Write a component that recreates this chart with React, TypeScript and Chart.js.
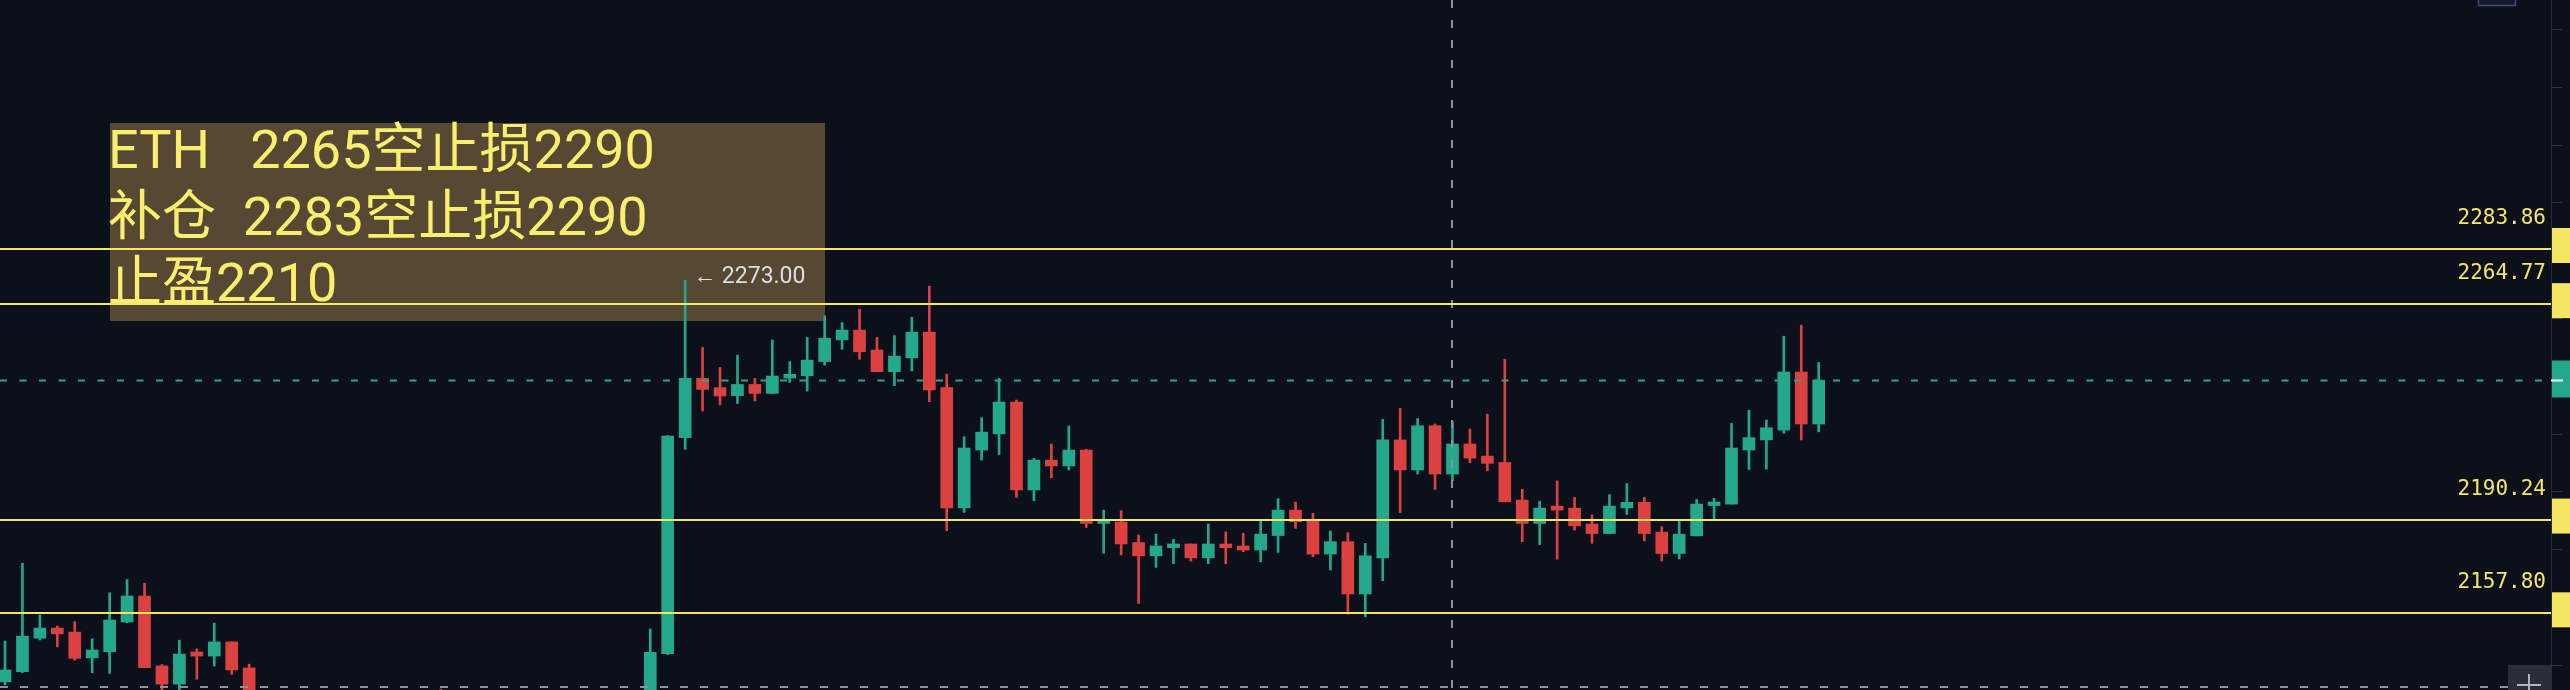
import React, { useEffect, useRef } from "react";
import { Chart, registerables } from "chart.js";

Chart.register(...registerables);

// ---------- data ----------
const OPEN = [
  2134.1, 2137.6, 2149.2, 2152.7, 2151.3, 2142.4, 2144.5, 2154.8, 2163.8, 2139.6,
  2133.3, 2144.4, 2143.0, 2147.9, 2138.9, 2127.0, 2121.0, 2119.0, 2114.5, 2117.5,
  2112.0, 2115.0, 2121.0, 2118.0, 2122.5, 2125.0, 2123.0, 2117.0, 2112.0, 2107.5,
  2110.0, 2114.0, 2110.5, 2116.0, 2113.0, 2118.0, 2115.0, 2117.0, 2143.8, 2218.6,
  2239.1, 2235.9, 2233.1, 2237.0, 2233.9, 2239.2, 2240.0, 2244.9, 2252.4, 2255.8,
  2248.9, 2241.4, 2246.2, 2255.1, 2235.9, 2194.3, 2214.3, 2219.9, 2230.9, 2200.5,
  2210.8, 2208.8, 2214.3, 2188.9, 2189.4, 2182.3, 2177.7, 2180.5, 2181.8, 2177.0,
  2181.8, 2181.1, 2179.7, 2184.7, 2193.5, 2190.3, 2178.3, 2182.6, 2164.5, 2177.0,
  2217.8, 2207.4, 2222.7, 2206.0, 2216.4, 2212.2, 2210.0, 2197.0, 2188.9, 2194.9,
  2194.2, 2188.7, 2185.4, 2194.3, 2196.2, 2185.9, 2178.5, 2184.6, 2195.1, 2195.6,
  2214.3, 2217.8, 2221.2, 2241.3, 2223.3,
];
const HIGH = [
  2148.2, 2175.1, 2157.2, 2153.4, 2154.9, 2149.0, 2164.9, 2169.5, 2168.2, 2140.1,
  2148.5, 2145.5, 2154.4, 2148.0, 2140.2, 2129.5, 2126.0, 2124.0, 2120.0, 2122.5,
  2118.0, 2125.0, 2127.0, 2124.0, 2128.5, 2131.6, 2126.0, 2121.0, 2116.0, 2113.0,
  2117.0, 2119.0, 2118.0, 2122.0, 2120.0, 2124.0, 2121.0, 2152.4, 2219.3, 2273.0,
  2249.8, 2242.9, 2247.1, 2239.1, 2252.4, 2244.9, 2253.3, 2260.7, 2258.4, 2263.0,
  2253.3, 2253.9, 2260.2, 2271.0, 2240.6, 2218.9, 2225.5, 2239.1, 2231.6, 2211.4,
  2216.4, 2222.6, 2214.5, 2193.5, 2193.3, 2184.9, 2185.2, 2183.4, 2181.8, 2188.7,
  2186.0, 2185.5, 2190.0, 2197.5, 2196.3, 2192.4, 2186.3, 2185.7, 2182.0, 2224.9,
  2228.7, 2225.2, 2223.3, 2224.1, 2221.6, 2226.7, 2245.7, 2200.7, 2196.6, 2203.6,
  2197.9, 2191.8, 2198.9, 2202.7, 2197.9, 2187.8, 2190.1, 2197.2, 2197.6, 2223.5,
  2228.1, 2224.7, 2253.7, 2257.5, 2244.6,
];
const LOW = [
  2133.0, 2137.3, 2148.6, 2146.2, 2141.6, 2137.2, 2137.0, 2154.5, 2139.0, 2129.0,
  2129.5, 2135.0, 2139.6, 2136.7, 2124.0, 2118.0, 2115.5, 2112.0, 2108.0, 2110.0,
  2106.0, 2113.0, 2116.0, 2114.0, 2119.0, 2120.0, 2115.0, 2109.0, 2104.0, 2101.0,
  2106.0, 2108.0, 2107.0, 2111.0, 2109.0, 2113.0, 2110.0, 2114.0, 2143.5, 2214.6,
  2227.8, 2229.9, 2230.4, 2231.3, 2233.9, 2237.7, 2234.7, 2243.7, 2249.2, 2245.7,
  2241.4, 2236.6, 2241.7, 2231.0, 2186.4, 2192.7, 2210.8, 2212.7, 2197.9, 2196.8,
  2204.7, 2207.4, 2187.5, 2178.6, 2178.0, 2161.2, 2173.7, 2175.0, 2175.9, 2175.0,
  2175.0, 2179.1, 2175.6, 2178.9, 2187.2, 2177.4, 2172.8, 2157.5, 2156.6, 2169.1,
  2192.6, 2206.0, 2200.7, 2203.7, 2209.9, 2207.1, 2196.4, 2182.6, 2181.6, 2176.5,
  2186.6, 2182.0, 2185.4, 2192.0, 2182.9, 2175.9, 2176.6, 2184.6, 2190.4, 2195.6,
  2207.6, 2207.7, 2220.1, 2217.8, 2220.6,
];
const CLOSE = [
  2138.2, 2149.9, 2152.7, 2150.7, 2142.2, 2145.1, 2155.5, 2163.8, 2139.0, 2133.3,
  2143.7, 2143.0, 2147.9, 2138.2, 2127.0, 2121.0, 2119.0, 2114.5, 2117.5, 2112.0,
  2115.0, 2121.0, 2118.0, 2122.5, 2125.0, 2123.0, 2117.0, 2112.0, 2107.5, 2110.0,
  2114.0, 2110.5, 2116.0, 2113.0, 2118.0, 2115.0, 2117.0, 2144.3, 2219.1, 2239.1,
  2235.3, 2233.0, 2237.0, 2233.9, 2239.9, 2240.5, 2245.4, 2253.0, 2255.8, 2248.3,
  2241.4, 2246.8, 2255.1, 2235.1, 2194.3, 2215.0, 2220.5, 2230.9, 2200.5, 2210.8,
  2208.8, 2214.3, 2188.9, 2190.3, 2181.8, 2177.7, 2181.1, 2181.8, 2177.0, 2181.8,
  2180.5, 2179.7, 2185.2, 2193.5, 2189.5, 2178.3, 2182.6, 2164.5, 2177.7, 2217.8,
  2207.4, 2222.7, 2206.0, 2216.4, 2211.5, 2209.7, 2196.4, 2188.9, 2194.2, 2193.5,
  2188.1, 2185.4, 2194.9, 2196.2, 2185.4, 2178.5, 2185.2, 2195.6, 2196.3, 2215.0,
  2218.6, 2222.0, 2241.3, 2223.3, 2238.5,
];

const LEVELS = [2283.86, 2264.77, 2190.24, 2157.8];
const LEVEL_LABELS = ["2283.86", "2264.77", "2190.24", "2157.80"];
const NOTE_LINES = ["ETH   2265空止损2290", "补仓  2283空止损2290", "止盈2210"];
const Y_TICKS = [2140, 2160, 2180, 2200, 2220, 2240, 2260, 2280, 2300, 2320, 2340, 2360];
const Y_MIN = 2131.27;
const Y_MAX = 2370.02;
const X_MIN = -0.287;
const X_MAX = 145.99;
const CROSSHAIR_INDEX = 83;
const CROSSHAIR_PRICE = 2132.3;

// ---------- styles ----------
const BG = "#0c101a";
const UP = "#24a88b";
const DOWN = "#db4141";
const YELLOW = "#f5e663";
const TEXT_YELLOW = "#f9ee6e";
const W = 2570;
const H = 690;

const overlay = {
  id: "overlay",
  beforeDraw(chart: any) {
    const ctx = chart.ctx;
    ctx.save();
    ctx.fillStyle = BG;
    ctx.fillRect(0, 0, chart.width, chart.height);
    ctx.restore();
  },
  beforeDatasetsDraw(chart: any) {
    const ctx = chart.ctx;
    ctx.save();
    ctx.fillStyle = "#574833";
    ctx.fillRect(110, 123, 715, 198);
    ctx.restore();
  },
  afterDatasetsDraw(chart: any) {
    const ctx = chart.ctx;
    const xs = chart.scales.x;
    const ys = chart.scales.y;
    const area = chart.chartArea;
    ctx.save();

    // current price dashed line
    const last = CLOSE[CLOSE.length - 1];
    const lastY = Math.round(ys.getPixelForValue(last)) + 0.5;
    ctx.strokeStyle = UP;
    ctx.lineWidth = 2;
    ctx.setLineDash([7, 12.5]);
    ctx.beginPath();
    ctx.moveTo(area.left, lastY);
    ctx.lineTo(area.right, lastY);
    ctx.stroke();

    // crosshair
    ctx.strokeStyle = "#8d909a";
    ctx.lineWidth = 2;
    ctx.setLineDash([8, 12]);
    const cx = Math.round(xs.getPixelForValue(CROSSHAIR_INDEX));
    ctx.beginPath();
    ctx.moveTo(cx, 0);
    ctx.lineTo(cx, area.bottom);
    ctx.stroke();
    const cy = Math.round(ys.getPixelForValue(CROSSHAIR_PRICE));
    ctx.beginPath();
    ctx.moveTo(0, cy);
    ctx.lineTo(2508, cy);
    ctx.stroke();
    ctx.setLineDash([]);

    // horizontal levels
    ctx.strokeStyle = YELLOW;
    ctx.lineWidth = 2;
    LEVELS.forEach((v) => {
      const y = Math.round(ys.getPixelForValue(v));
      ctx.beginPath();
      ctx.moveTo(0, y);
      ctx.lineTo(area.right, y);
      ctx.stroke();
    });

    // level labels
    ctx.font = '21px "DejaVu Sans Mono"';
    ctx.fillStyle = YELLOW;
    ctx.textAlign = "right";
    ctx.textBaseline = "alphabetic";
    LEVELS.forEach((v, i) => {
      const y = ys.getPixelForValue(v);
      ctx.fillText(LEVEL_LABELS[i], 2546, y - 25);
    });

    // note text
    ctx.font = '54px Roboto, "Noto Sans CJK SC"';
    ctx.fillStyle = TEXT_YELLOW;
    ctx.textAlign = "left";
    const baselines = [168, 235, 301];
    NOTE_LINES.forEach((t, i) => ctx.fillText(t, 108, baselines[i]));

    // highest-high label
    let hi = 0;
    for (let i = 0; i < HIGH.length; i++) if (HIGH[i] > HIGH[hi]) hi = i;
    const hx = xs.getPixelForValue(hi) + 8;
    const hy = ys.getPixelForValue(HIGH[hi]) - 3;
    ctx.font = "23px Roboto";
    ctx.fillStyle = "#dcdfe6";
    ctx.textBaseline = "middle";
    ctx.fillText("\u2190 " + HIGH[hi].toFixed(2), hx, hy);

    // price axis
    ctx.fillStyle = BG;
    ctx.fillRect(area.right, 0, W - area.right, H);
    ctx.strokeStyle = "#2a2e39";
    ctx.lineWidth = 1;
    ctx.beginPath();
    ctx.moveTo(area.right + 0.5, 0);
    ctx.lineTo(area.right + 0.5, H);
    ctx.stroke();
    ctx.strokeStyle = "#30343f";
    Y_TICKS.forEach((v) => {
      const y = Math.round(ys.getPixelForValue(v)) + 0.5;
      ctx.beginPath();
      ctx.moveTo(area.right, y);
      ctx.lineTo(area.right + 11, y);
      ctx.stroke();
    });
    LEVELS.forEach((v) => {
      const y = ys.getPixelForValue(v);
      ctx.fillStyle = YELLOW;
      ctx.fillRect(area.right + 1, y - 21, W - area.right, 35);
    });
    ctx.fillStyle = UP;
    ctx.fillRect(area.right + 1, lastY - 20, W - area.right, 37);
    ctx.strokeStyle = "#ffffff";
    ctx.lineWidth = 2;
    ctx.beginPath();
    ctx.moveTo(area.right, lastY);
    ctx.lineTo(area.right + 12, lastY);
    ctx.stroke();

    // crosshair "+" button
    ctx.fillStyle = "#2a2e39";
    ctx.fillRect(2508, 665, area.right - 2508, 25);
    ctx.strokeStyle = "#b2b5be";
    ctx.lineWidth = 2;
    ctx.beginPath();
    ctx.moveTo(2529, 674);
    ctx.lineTo(2529, 690);
    ctx.moveTo(2517, 685);
    ctx.lineTo(2541, 685);
    ctx.stroke();

    // small top box
    ctx.fillStyle = "#151a2c";
    ctx.fillRect(2478, -2, 38, 8);
    ctx.strokeStyle = "#44468a";
    ctx.lineWidth = 1.5;
    ctx.strokeRect(2478.5, -2, 37, 7.5);

    ctx.restore();
  },
};

export default function App() {
  const ref = useRef<HTMLCanvasElement | null>(null);

  useEffect(() => {
    document.body.style.margin = "0";
    document.body.style.background = BG;
    const canvas = ref.current;
    if (!canvas) return;
    const colors = OPEN.map((o, i) => (CLOSE[i] >= o ? UP : DOWN));
    const bodies = OPEN.map((o, i) => ({ x: i, y: [Math.min(o, CLOSE[i]), Math.max(o, CLOSE[i])] }));
    const wicks = OPEN.map((_, i) => ({ x: i, y: [LOW[i], HIGH[i]] }));
    const chart = new Chart(canvas, {
      type: "bar",
      data: {
        datasets: [
          {
            data: bodies as any,
            backgroundColor: colors,
            borderWidth: 0,
            borderSkipped: false,
            barThickness: 12,
            minBarLength: 2,
            grouped: false,
          } as any,
          {
            data: wicks as any,
            backgroundColor: colors,
            borderWidth: 0,
            borderSkipped: false,
            barThickness: 2,
            grouped: false,
          } as any,
        ],
      },
      options: {
        responsive: false,
        devicePixelRatio: 1,
        animation: false,
        events: [],
        layout: { padding: { left: 0, top: 0, bottom: 0, right: 19 } },
        plugins: { legend: { display: false }, tooltip: { enabled: false }, title: { display: false } },
        scales: {
          x: { type: "linear", min: X_MIN, max: X_MAX, offset: false, display: false },
          y: { type: "linear", min: Y_MIN, max: Y_MAX, display: false },
        },
      },
      plugins: [overlay],
    });
    return () => chart.destroy();
  }, []);

  return (
    <div style={{ position: "absolute", left: 0, top: 0, width: W, height: H, background: BG }}>
      <canvas ref={ref} width={W} height={H} style={{ display: "block", width: W, height: H }} />
    </div>
  );
}
